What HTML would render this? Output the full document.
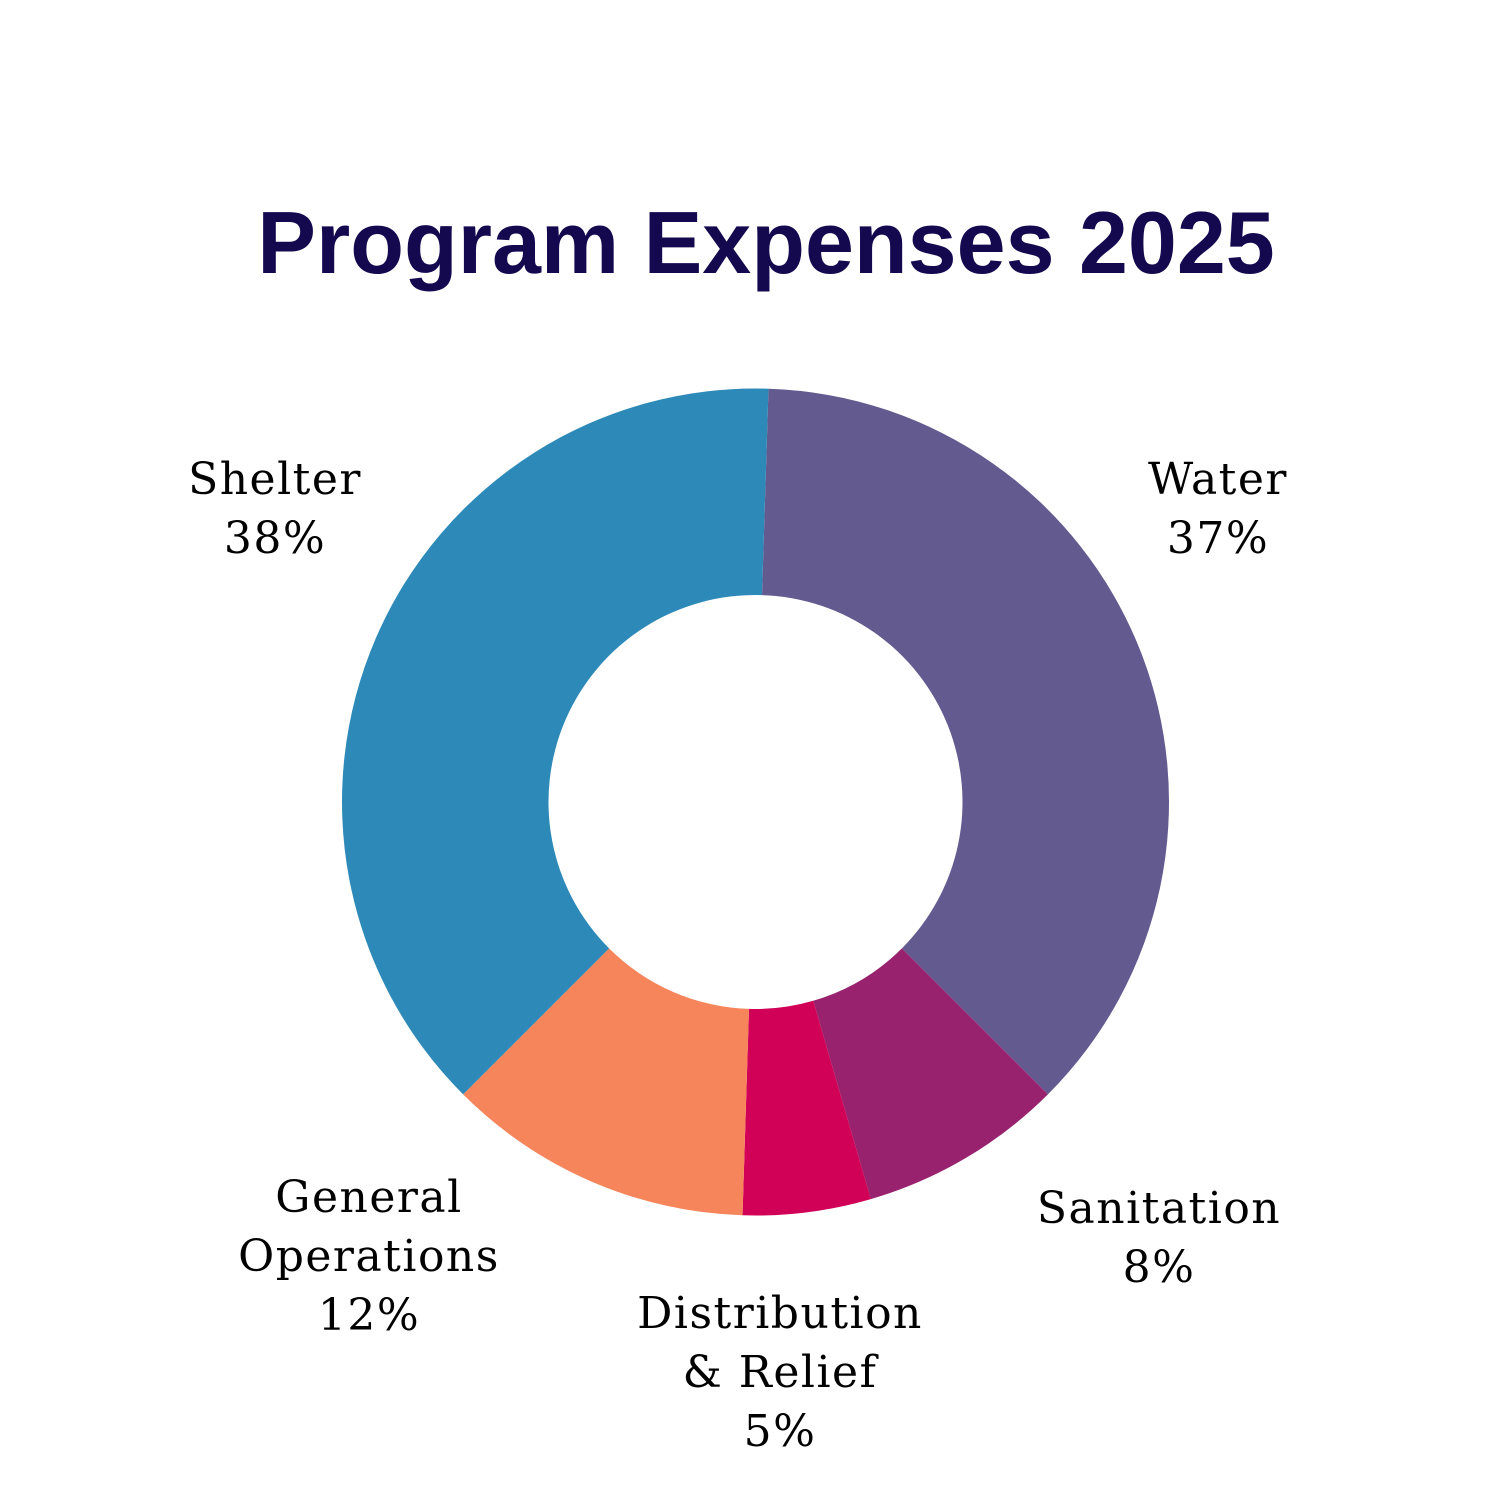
<!DOCTYPE html>
<html><head><meta charset="utf-8"><style>
html,body{margin:0;padding:0;background:#fff}
svg{display:block}
.lbl{font-family:"DejaVu Serif","Liberation Serif",serif;font-size:44px;letter-spacing:1.5px;fill:#000}
</style></head><body>
<svg id="chart" width="1500" height="1500" viewBox="0 0 1500 1500">
<text x="766" y="273" text-anchor="middle" style="font-family:'Liberation Sans',sans-serif;font-weight:bold;font-size:88px;fill:#14084f">Program Expenses 2025</text>
<g id="slices"></g>
<g id="labels"></g>
</svg>
<script>
const categories = ["Water","Sanitation","Distribution & Relief","General Operations","Shelter"];
const values = [37,8,5,12,38];
const colors = ["#635a8f","#98226e","#d10158","#f6855b","#2d8ab8"];
const labelLines = [["Water","37%"],["Sanitation","8%"],["Distribution","& Relief","5%"],["General","Operations","12%"],["Shelter","38%"]];
const labelPos = [[1218,478],[1159,1207],[780,1312],[369,1196],[275,478]];
const cx=755.5, cy=802, R=413.5, r=207, start=1.8;
const ns="http://www.w3.org/2000/svg";
const total=values.reduce((a,b)=>a+b,0);
function pt(deg,rad){const a=deg*Math.PI/180;return [cx+rad*Math.sin(a),cy-rad*Math.cos(a)];}
let ang=start;
const g=document.getElementById('slices');
values.forEach((v,i)=>{
  const sweep=v/total*360, a0=ang, a1=ang+sweep; ang=a1;
  const large=sweep>180?1:0;
  const [x0,y0]=pt(a0,R),[x1,y1]=pt(a1,R),[x2,y2]=pt(a1,r),[x3,y3]=pt(a0,r);
  const p=document.createElementNS(ns,'path');
  p.setAttribute('d',`M${x0},${y0}A${R},${R} 0 ${large} 1 ${x1},${y1}L${x2},${y2}A${r},${r} 0 ${large} 0 ${x3},${y3}Z`);
  p.setAttribute('fill',colors[i]);
  
  
  g.appendChild(p);
});
const lg=document.getElementById('labels');
labelLines.forEach((lines,i)=>{
  const t=document.createElementNS(ns,'text');
  t.setAttribute('class','lbl');
  t.setAttribute('text-anchor','middle');
  
  
  lines.forEach((s,j)=>{
    const ts=document.createElementNS(ns,'tspan');
    ts.setAttribute('x',labelPos[i][0]);
    ts.setAttribute('y',labelPos[i][1]+16+j*59);
    ts.textContent=s;
    t.appendChild(ts);
  });
  lg.appendChild(t);
});
</script>
</body></html>
